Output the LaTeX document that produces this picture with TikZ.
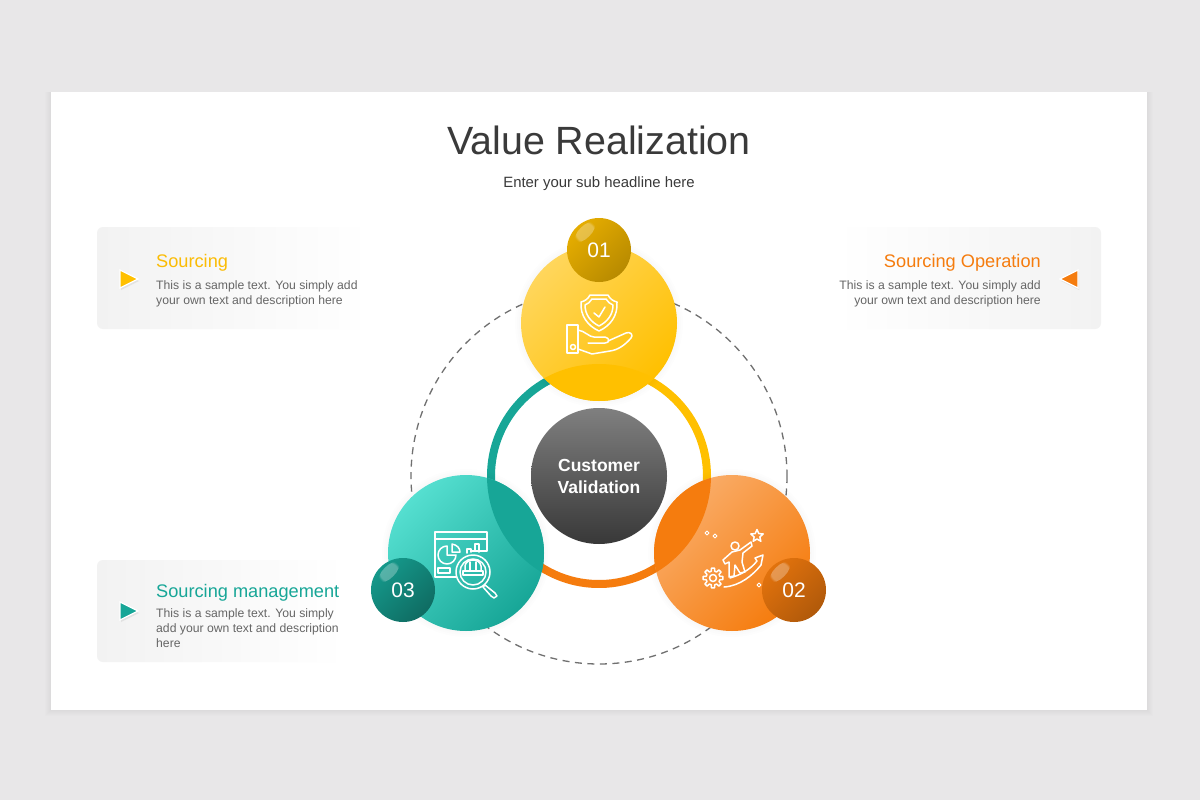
\documentclass[tikz,border=0pt]{standalone}
\usepackage{fontspec}
\setmainfont{Liberation Sans}
\usetikzlibrary{fadings,shadows}
\definecolor{pagegrey}{HTML}{E8E7E8}
\definecolor{inkdark}{HTML}{3A3A3A}
\definecolor{inkbody}{HTML}{666666}
\definecolor{ringgrey}{HTML}{707070}
\definecolor{goldmain}{HTML}{FFC000}
\definecolor{goldtext}{HTML}{FBBC05}
\definecolor{tealmain}{HTML}{17A697}
\definecolor{orangemain}{HTML}{F57C0E}
\definecolor{goldlight}{HTML}{FFD65C}
\definecolor{teallight}{HTML}{55DFD0}
\definecolor{orangelight}{HTML}{FAAE6B}
\definecolor{panelgrey}{HTML}{F2F2F2}
\tikzset{
	golddisc/.style={top color=goldlight,bottom color=goldmain,shading angle=45},
	tealdisc/.style={top color=teallight,bottom color=tealmain,shading angle=45},
	orangedisc/.style={top color=orangelight,bottom color=orangemain,shading angle=45},
	badge/.style={circle,minimum size=64pt,inner sep=0pt,text=white,font=\fontsize{21}{25}\selectfont},
	panel/.style={rounded corners=6pt,left color=panelgrey,right color=white},
	headtext/.style={inner sep=0pt,font=\fontsize{18.2}{22}\selectfont},
	bodytext/.style={inner sep=0pt,text=inkbody,font=\fontsize{12.2}{15}\selectfont},
	pointer/.style={draw=white,line width=1.2pt,line join=miter,drop shadow={opacity=0.15,shadow xshift=1pt,shadow yshift=-2pt}},
	iconline/.style={draw=white,line width=1.5pt,line join=round,line cap=round},
	gloss/.style={white,opacity=0.28,path fading=circle with fuzzy edge 20 percent}
}
\begin{document}
\begin{tikzpicture}[x=1pt,y=-1pt]
	\useasboundingbox (0,0) rectangle (1200,800);
	\fill [pagegrey] (0,0) rectangle (1200,800);
	\foreach \s in {6,5,...,1}
		\fill [black,opacity=0.006] (51-\s,92) rectangle (1147+\s,710+\s);
	\fill [white] (51,92) rectangle (1147,710);
	\node (title) [inner sep=0pt,text=inkdark,font=\fontsize{39.4}{47}\selectfont] at (599,140) {Value Realization};
	\node (subtitle) [inner sep=0pt,text=inkdark,font=\fontsize{14.9}{18}\selectfont] at (599,184) {Enter your sub headline here};

	\shade [panel] (97,227) rectangle (370,329);
	\shade [panel,left color=white,right color=panelgrey] (836,227) rectangle (1101,329);
	\shade [panel] (97,560) rectangle (345,662);
	\fill [goldmain,pointer] (120,270) -- (138,279) -- (120,288) -- cycle;
	\fill [orangemain,pointer] (1078,270) -- (1060,279) -- (1078,288) -- cycle;
	\fill [tealmain,pointer] (120,602) -- (138,611) -- (120,620) -- cycle;
	\node (headone) [headtext,text=goldtext,anchor=west] at (156,262.5) {Sourcing};
	\node (bodyone) [bodytext,anchor=north west,align=left] at (156,280) {This is a sample text. You simply add\\your own text and description here};
	\node (headtwo) [headtext,text=orangemain,anchor=east] at (1041,262.5) {Sourcing Operation};
	\node (bodytwo) [bodytext,anchor=north east,align=right] at (1041,280) {This is a sample text. You simply add\\your own text and description here};
	\node (headthree) [headtext,text=tealmain,anchor=west] at (156,592.5) {Sourcing management};
	\node (bodythree) [bodytext,anchor=north west,align=left] at (156,608) {This is a sample text. You simply\\add your own text and description\\here};

	\coordinate (hub) at (599,476);
	\coordinate (topc) at (599,323);
	\coordinate (leftc) at (466,553);
	\coordinate (rightc) at (732,553);
	\draw [ringgrey,line width=1.3pt,dash pattern=on 7pt off 5.5pt] (hub) circle[radius=188];
	\draw [tealmain,line width=8pt] (hub) ++(-90:108) arc[start angle=-90,end angle=-210,radius=108];
	\draw [goldmain,line width=8pt] (hub) ++(-90:108) arc[start angle=-90,end angle=30,radius=108];
	\draw [orangemain,line width=8pt] (hub) ++(30:108) arc[start angle=30,end angle=150,radius=108];

	\foreach \c in {topc,leftc,rightc}
		\foreach \r in {84,82,80}
			\fill [black,opacity=0.008] (\c) circle[radius=\r];
	\shade [golddisc] (topc) circle[radius=78];
	\shade [tealdisc] (leftc) circle[radius=78];
	\shade [orangedisc] (rightc) circle[radius=78];
	\begin{scope}
		\clip (topc) circle[radius=78];
		\fill [goldmain] (hub) circle[radius=112];
	\end{scope}
	\begin{scope}
		\clip (leftc) circle[radius=78];
		\fill [tealmain] (hub) circle[radius=112];
	\end{scope}
	\begin{scope}
		\clip (rightc) circle[radius=78];
		\fill [orangemain] (hub) circle[radius=112];
	\end{scope}

	\node (hubnode) [circle,minimum size=136pt,inner sep=0pt,top color=black!50,bottom color=black!78,text=white,align=center,font=\bfseries\fontsize{17.5}{22}\selectfont] at (hub) {Customer\\Validation};

	% shield and hand
	\draw [iconline] (590,295) -- (608,295) .. controls (610,299) and (613,301) .. (617,302) .. controls (618,316) and (610,326) .. (599,331) .. controls (588,326) and (580,316) .. (581,302) .. controls (585,301) and (588,299) .. (590,295) -- cycle;
	\draw [iconline] (592,299) -- (606,299) .. controls (608,302) and (610,304) .. (613,305) .. controls (613,315) and (607,322) .. (599,326) .. controls (591,322) and (585,315) .. (585,305) .. controls (588,304) and (590,302) .. (592,299) -- cycle;
	\draw [iconline] (594,313) -- (599,317) -- (605,307);
	\draw [iconline] (567,325) rectangle (578,353);
	\draw [iconline] (573,347) circle[radius=2.5];
	\draw [iconline] (578,330) .. controls (585,331) and (589,337) .. (594,337) -- (605,337) .. controls (610,338) and (610,343) .. (605,343) -- (588,343);
	\draw [iconline] (608,341) -- (626,333) .. controls (630,331) and (634,335) .. (631,338) .. controls (625,345) and (618,350) .. (610,351) -- (592,354) -- (578,349);

	% chart and magnifier
	\draw [iconline] (471,551) -- (487,551) -- (487,532) -- (435,532) -- (435,577) -- (456,577);
	\draw [iconline] (435,539) -- (487,539);
	\draw [iconline] (456,555) arc[start angle=0,end angle=270,radius=9] -- (447,555) -- cycle;
	\draw [iconline] (452,544) .. controls (457,545) and (460,548) .. (460,552) -- (452,552) -- cycle;
	\draw [iconline] (438,568) rectangle (450,573);
	\draw [iconline] (467,553) -- (467,549) -- (471,549) -- (471,552);
	\draw [iconline] (475,551) -- (475,544) -- (479,544) -- (479,552);
	\draw [iconline] (473,572) circle[radius=17];
	\draw [iconline] (473,572) circle[radius=13];
	\draw [iconline] (465,571) -- (465,566) .. controls (466,558) and (480,558) .. (481,566) -- (481,571);
	\draw [iconline] (463,571) rectangle (483,575);
	\draw [iconline] (470,562) -- (470,571) (476,562) -- (476,571);
	\draw [iconline] (485,585) -- (495,593) -- (497,596) -- (494,598) -- (491,596) -- (483,587) -- cycle;

	% climber, gear and star
	\draw [iconline,shift={(713,578)}] (-14:7) \foreach \a in {0,45,...,315}{ -- (\a-14:7) -- (\a-9:10) -- (\a+9:10) -- (\a+14:7) -- (\a+31:7)} -- cycle;
	\draw [iconline] (713,578) circle[radius=3.5];
	\draw [iconline] (735,546) circle[radius=4];
	\draw [iconline] (723,560) -- (732,552) -- (740,550) -- (751,542) -- (752,546) -- (743,553) -- (742,562) -- (745,572) -- (740,573) -- (735,565) -- (734,576) -- (729,577) -- (729,562) -- (725,564) -- cycle;
	\draw [iconline] (724,587) .. controls (740,586) and (753,575) .. (761,565) -- (763,555) -- (755,558) -- (757,561) .. controls (750,570) and (740,575) .. (730,578);
	\draw [iconline,shift={(757,536)}] (-90:6.5) \foreach \a in {-90,-18,54,126,198}{ -- (\a:6.5) -- (\a+36:3)} -- cycle;
	\foreach \p in {(707,533),(715,536),(759,585)}
		\draw [iconline,line width=1pt,shift={\p}] (0,-2) -- (2,0) -- (0,2) -- (-2,0) -- cycle;

	\node (badgeone) [badge,top color=goldmain!90!black,bottom color=goldmain!72!black,shading angle=45] at (599,250) {01};
	\node (badgetwo) [badge,top color=orangemain!92!black,bottom color=orangemain!72!black,shading angle=45] at (794,590) {02};
	\node (badgethree) [badge,top color=tealmain!92!black,bottom color=tealmain!65!black,shading angle=45] at (403,590) {03};
	\foreach \p in {(585,232),(780,572),(389,572)}
		\fill [gloss,rotate around={45:\p}] \p ellipse[x radius=13,y radius=6];
\end{tikzpicture}
\end{document}
